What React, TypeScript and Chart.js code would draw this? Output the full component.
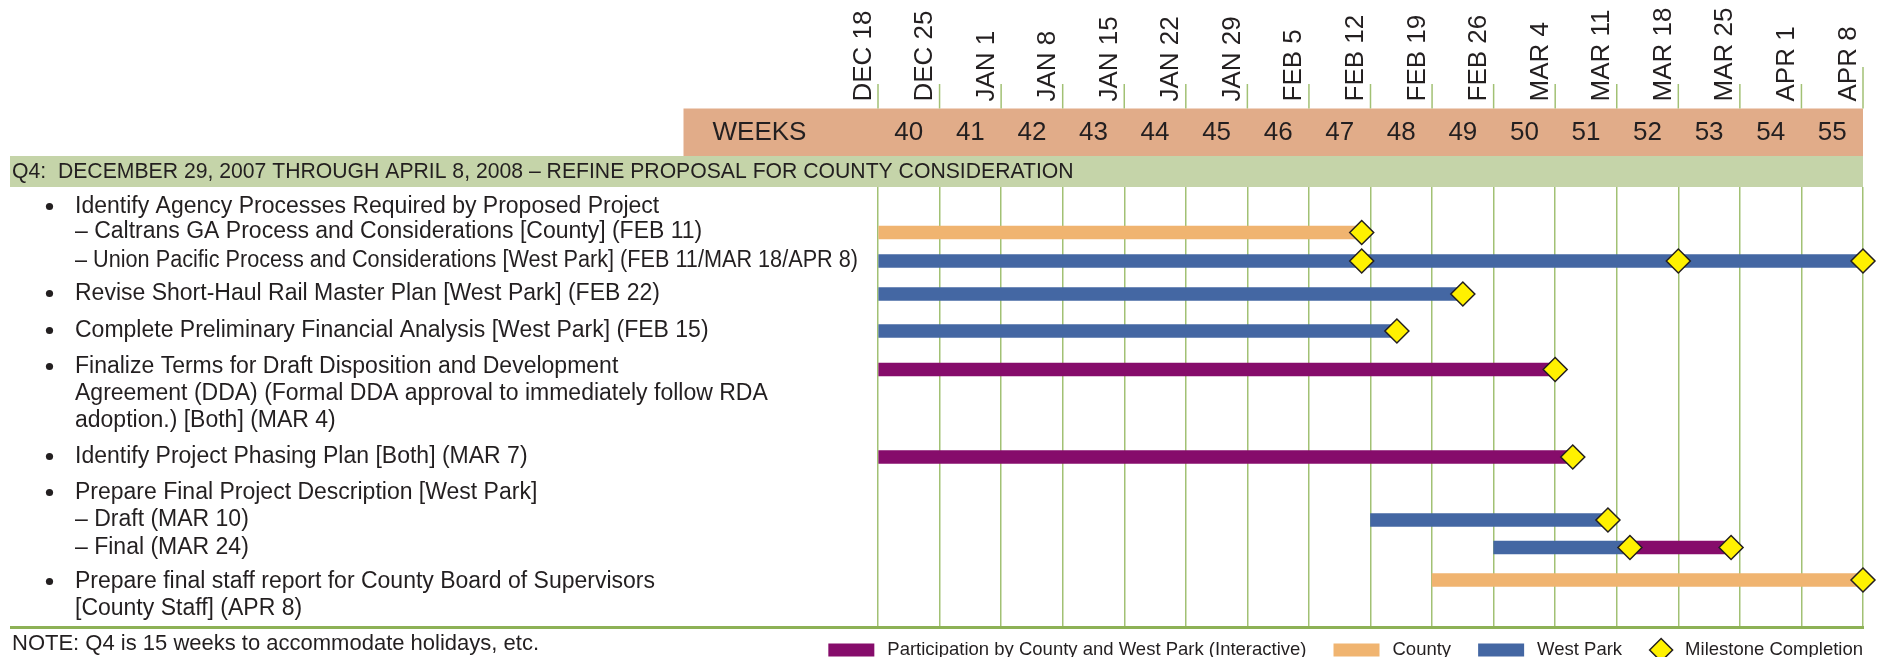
import React, { useEffect, useRef } from 'react';
import { Chart, registerables } from 'chart.js';

Chart.register(...registerables);

// ---------------- data ----------------
const DATE_LABELS = ['DEC 18', 'DEC 25', 'JAN 1', 'JAN 8', 'JAN 15', 'JAN 22', 'JAN 29', 'FEB 5', 'FEB 12', 'FEB 19', 'FEB 26', 'MAR 4', 'MAR 11', 'MAR 18', 'MAR 25', 'APR 1', 'APR 8'];
const WEEK_NUMBERS = ['40', '41', '42', '43', '44', '45', '46', '47', '48', '49', '50', '51', '52', '53', '54', '55'];
const WEEKS_LABEL = 'WEEKS';
const SECTION_TITLE = 'Q4:  DECEMBER 29, 2007 THROUGH APRIL 8, 2008 \u2013 REFINE PROPOSAL FOR COUNTY CONSIDERATION';
const NOTE_TEXT = 'NOTE: Q4 is 15 weeks to accommodate holidays, etc.';

const TASK_TEXT = [
  'Identify Agency Processes Required by Proposed Project',
  '\u2013 Caltrans GA Process and Considerations [County] (FEB 11)',
  '\u2013 Union Pacific Process and Considerations [West Park] (FEB 11/MAR 18/APR 8)',
  'Revise Short-Haul Rail Master Plan [West Park] (FEB 22)',
  'Complete Preliminary Financial Analysis [West Park] (FEB 15)',
  'Finalize Terms for Draft Disposition and Development',
  'Agreement (DDA) (Formal DDA approval to immediately follow RDA',
  'adoption.) [Both] (MAR 4)',
  'Identify Project Phasing Plan [Both] (MAR 7)',
  'Prepare Final Project Description [West Park]',
  '\u2013 Draft (MAR 10)',
  '\u2013 Final (MAR 24)',
  'Prepare final staff report for County Board of Supervisors',
  '[County Staff] (APR 8)',
];
const TASK_BULLET = [true, false, false, true, true, true, false, false, true, true, false, false, true, false];

const SERIES_LABELS = ['Participation by County and West Park (Interactive)', 'County', 'West Park', 'Milestone Completion'];

// bars: days counted from DEC 18
const INTERACTIVE_ROWS = ['dda', 'phasing', 'final'];
const INTERACTIVE_START = [0, 0, 85.5];
const INTERACTIVE_END = [77, 79, 97];

const COUNTY_ROWS = ['caltrans', 'staffReport'];
const COUNTY_START = [0, 63];
const COUNTY_END = [55, 112];

const WESTPARK_ROWS = ['unionPacific', 'revise', 'financial', 'draft', 'final'];
const WESTPARK_START = [0, 0, 0, 56, 70];
const WESTPARK_END = [112, 66.5, 59, 83, 85.5];

const MILESTONE_ROWS = ['caltrans', 'unionPacific', 'unionPacific', 'unionPacific', 'revise', 'financial', 'dda', 'phasing', 'draft', 'final', 'final', 'staffReport'];
const MILESTONE_DAYS = [55, 55, 91, 112, 66.5, 59, 77, 79, 83, 85.5, 97, 112];

// ---------------- layout / style ----------------
const TOTAL_DAYS = 112;
const DAYS_PER_WEEK = 7;
const ROW_Y: Record<string, number> = {
  caltrans: 45.5, unionPacific: 74, revise: 107, financial: 144, dda: 182.5,
  phasing: 270, draft: 333, final: 360.5, staffReport: 393,
};
const LINE_Y = [20, 45, 74, 107, 144, 180, 207, 234, 270, 306, 333, 360.5, 395, 422];
const Y_MAX = 440;

const FONT = '"Liberation Sans", Arial, Helvetica, sans-serif';
const TEXT_COLOR = '#231f20';
const PURPLE = '#860c6b';
const ORANGE = '#f0b470';
const BLUE = '#4467a3';
const YELLOW = '#fff100';
const GRID_GREEN = '#a2c174';
const LINE_GREEN = '#8db156';
const WEEK_BAND = '#e1ac89';
const TITLE_BAND = '#c5d4a9';

const W = 1871;
const H = 649;

function drawDiamond(ctx: CanvasRenderingContext2D, cx: number, cy: number, r: number) {
  ctx.beginPath();
  ctx.moveTo(cx - r, cy);
  ctx.lineTo(cx, cy - r);
  ctx.lineTo(cx + r, cy);
  ctx.lineTo(cx, cy + r);
  ctx.closePath();
  ctx.fillStyle = YELLOW;
  ctx.fill();
  ctx.lineWidth = 1.5;
  ctx.strokeStyle = TEXT_COLOR;
  ctx.stroke();
}

const decorPlugin = {
  id: 'ganttDecor',
  afterDraw(chart: any) {
    const { ctx, chartArea, scales } = chart;
    const xs = scales.x;
    const ys = scales.y;
    ctx.save();

    // week band
    const bandTop = 100.5;
    const bandMid = 148;
    ctx.fillStyle = WEEK_BAND;
    ctx.fillRect(675.5, bandTop, chartArea.right - 675.5, bandMid - bandTop);
    // title band
    ctx.fillStyle = TITLE_BAND;
    ctx.fillRect(2, bandMid, chartArea.right - 2, chartArea.top - bandMid);

    // tick segments above the week band
    ctx.strokeStyle = GRID_GREEN;
    ctx.lineWidth = 1.5;
    DATE_LABELS.forEach((_, i) => {
      const gx = xs.getPixelForValue(i * DAYS_PER_WEEK);
      ctx.beginPath();
      ctx.moveTo(gx, i === DATE_LABELS.length - 1 ? 59 : 76);
      ctx.lineTo(gx, bandTop);
      ctx.stroke();
    });

    ctx.fillStyle = TEXT_COLOR;
    // rotated date labels
    ctx.font = `26px ${FONT}`;
    ctx.textAlign = 'left';
    ctx.textBaseline = 'alphabetic';
    DATE_LABELS.forEach((lbl, i) => {
      const gx = xs.getPixelForValue(i * DAYS_PER_WEEK);
      ctx.save();
      ctx.translate(gx - 7.5, 93.5);
      ctx.rotate(-Math.PI / 2);
      ctx.fillText(lbl, 0, 0);
      ctx.restore();
    });

    // week numbers
    ctx.textBaseline = 'middle';
    ctx.textAlign = 'left';
    ctx.fillText(WEEKS_LABEL, 704.5, 124.5);
    ctx.textAlign = 'center';
    WEEK_NUMBERS.forEach((w, i) => {
      const a = xs.getPixelForValue(i * DAYS_PER_WEEK);
      const b = xs.getPixelForValue((i + 1) * DAYS_PER_WEEK);
      ctx.fillText(w, (a + b) / 2, 124.5);
    });

    // section title
    ctx.font = `21.2px ${FONT}`;
    ctx.textAlign = 'left';
    ctx.fillText(SECTION_TITLE, 4, 164);

    // task text (kept clear of the plot area)
    ctx.font = `23px ${FONT}`;
    const textX = 67;
    const maxW = chartArea.left - 20 - textX;
    TASK_TEXT.forEach((t, i) => {
      const py = ys.getPixelForValue(LINE_Y[i]);
      if (TASK_BULLET[i]) {
        ctx.beginPath();
        ctx.arc(41.5, py - 0.5, 3.6, 0, Math.PI * 2);
        ctx.fill();
      }
      ctx.fillText(t, textX, py, maxW);
    });

    // bottom rule
    ctx.strokeStyle = LINE_GREEN;
    ctx.lineWidth = 3;
    ctx.beginPath();
    ctx.moveTo(2, chartArea.bottom + 0.5);
    ctx.lineTo(chartArea.right + 1, chartArea.bottom + 0.5);
    ctx.stroke();

    // note
    ctx.fillStyle = TEXT_COLOR;
    ctx.font = `22px ${FONT}`;
    ctx.textAlign = 'left';
    ctx.fillText(NOTE_TEXT, 4, 636);

    // legend (right aligned, built from datasets)
    ctx.font = `18.5px ${FONT}`;
    const ds = chart.data.datasets;
    const legendY = 642;
    let xRight = chartArea.right;
    for (let i = ds.length - 1; i >= 0; i--) {
      const label = ds[i].label as string;
      const tw = ctx.measureText(label).width;
      const lx = xRight - tw;
      ctx.fillStyle = TEXT_COLOR;
      ctx.fillText(label, lx, legendY);
      let markerLeft: number;
      if (ds[i].type === 'scatter') {
        const cx = lx - 24;
        drawDiamond(ctx, cx, legendY, 11.5);
        markerLeft = cx - 12;
      } else {
        markerLeft = lx - 13 - 46;
        ctx.fillStyle = ds[i].backgroundColor;
        ctx.fillRect(markerLeft, legendY - 6.5, 46, 13);
      }
      xRight = markerLeft - 27;
    }

    ctx.restore();
  },
};

function barData(rows: string[], starts: number[], ends: number[]) {
  return rows.map((r, i) => ({ x: [starts[i], ends[i]], y: ROW_Y[r] }));
}

export default function App() {
  const ref = useRef<HTMLCanvasElement>(null);

  useEffect(() => {
    const barCommon = {
      type: 'bar' as const,
      indexAxis: 'y' as const,
      grouped: false,
      barThickness: 13,
      borderWidth: 0,
      order: 2,
    };
    const chart = new Chart(ref.current as HTMLCanvasElement, {
      type: 'bar',
      data: {
        datasets: [
          { ...barCommon, label: SERIES_LABELS[0], backgroundColor: PURPLE, data: barData(INTERACTIVE_ROWS, INTERACTIVE_START, INTERACTIVE_END) } as any,
          { ...barCommon, label: SERIES_LABELS[1], backgroundColor: ORANGE, data: barData(COUNTY_ROWS, COUNTY_START, COUNTY_END) } as any,
          { ...barCommon, label: SERIES_LABELS[2], backgroundColor: BLUE, data: barData(WESTPARK_ROWS, WESTPARK_START, WESTPARK_END) } as any,
          {
            type: 'scatter',
            label: SERIES_LABELS[3],
            data: MILESTONE_DAYS.map((d, i) => ({ x: d, y: ROW_Y[MILESTONE_ROWS[i]] })),
            pointStyle: 'rectRot',
            pointRadius: 12,
            backgroundColor: YELLOW,
            borderColor: TEXT_COLOR,
            borderWidth: 1.5,
            clip: false,
            order: 0,
          } as any,
        ],
      },
      options: {
        responsive: false,
        animation: false,
        events: [],
        layout: { padding: { left: 870, right: 16, top: 179, bottom: 30 } },
        plugins: { legend: { display: false }, tooltip: { enabled: false }, title: { display: false } },
        scales: {
          x: {
            type: 'linear',
            min: 0,
            max: TOTAL_DAYS,
            offset: false,
            position: 'bottom',
            ticks: { display: false, stepSize: DAYS_PER_WEEK },
            border: { display: false },
            grid: { color: GRID_GREEN, lineWidth: 1.5, drawTicks: false, offset: false },
          },
          y: {
            type: 'linear',
            min: 0,
            max: Y_MAX,
            offset: false,
            reverse: true,
            display: false,
            grid: { offset: false },
          },
        },
      },
      plugins: [decorPlugin],
    } as any);
    return () => chart.destroy();
  }, []);

  return (
    <div style={{ width: W, height: H }}>
      <canvas ref={ref} width={W} height={H} style={{ display: 'block' }} />
    </div>
  );
}
